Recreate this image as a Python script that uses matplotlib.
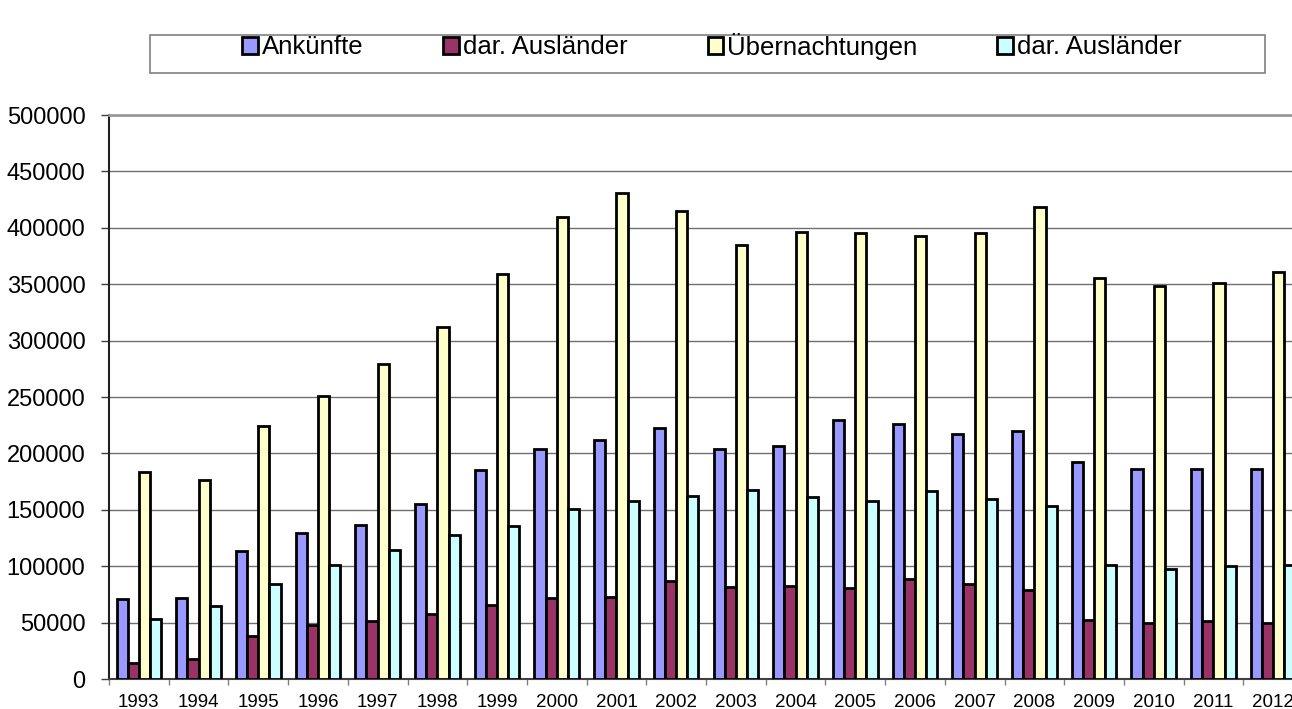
import numpy as np
import matplotlib
matplotlib.use("Agg")
import matplotlib.pyplot as plt
from matplotlib.patches import Rectangle

plt.rcParams['font.family'] = ['Liberation Sans', 'DejaVu Sans']

# data
years = [str(y) for y in range(1993, 2013)]
ankuenfte = [71000, 71500, 113500, 129000, 136500, 155500, 185000, 203500, 211500, 222500,
             204000, 207000, 229500, 226500, 217500, 220000, 192000, 186000, 186500, 186000]
ank_ausl = [14500, 18000, 38500, 47500, 51500, 57500, 65500, 72000, 72500, 87000,
            81500, 82500, 81000, 89000, 84000, 79000, 52500, 49500, 51000, 49500]
uebernachtungen = [183500, 176000, 224500, 251000, 279500, 312500, 359000, 409500, 431000, 414500,
                   385000, 396000, 395000, 392500, 395000, 418000, 355500, 348000, 351500, 361000]
ueb_ausl = [53500, 64500, 84000, 101000, 114000, 128000, 135500, 151000, 158000, 162500,
            167500, 161500, 158000, 167000, 159500, 153500, 101500, 97500, 100000, 101500]

series = [ankuenfte, ank_ausl, uebernachtungen, ueb_ausl]
labels = ["Ankünfte", "dar. Ausländer", "Übernachtungen", "dar. Ausländer"]
colors = ["#9999FF", "#993366", "#FFFFCC", "#CCFFFF"]

W, H = 1292, 709
fig = plt.figure(figsize=(W / 100, H / 100), dpi=100)
# plot area runs a bit past the right edge, like the original
ax = fig.add_axes([109 / W, 30 / H, (1303 - 109) / W, (679 - 115) / H])

x = np.arange(len(years))
bw = 0.187
handles = []
for i, (vals, col) in enumerate(zip(series, colors)):
    b = ax.bar(x + (i - 1.5) * bw, vals, bw, color=col, edgecolor="black",
               linewidth=2.0, zorder=3)
    handles.append(b)

ax.set_xlim(-0.5, len(years) - 0.5)
ax.set_ylim(0, 500000)
ax.set_yticks(np.arange(0, 500001, 50000))
ax.set_yticklabels([str(v) for v in range(0, 500001, 50000)], fontsize=17)
ax.tick_params(axis='y', length=6, width=1, color="#404040", pad=11)

# category labels centered, ticks between categories
ax.set_xticks(x)
ax.set_xticklabels(years, fontsize=13.5)
ax.tick_params(axis='x', which='major', length=0, pad=11)
ax.set_xticks(np.arange(-0.5, len(years), 1), minor=True)
ax.tick_params(axis='x', which='minor', length=4, width=1, color="#808080")

ax.yaxis.grid(True, color="#707070", linewidth=1, zorder=0)
ax.set_axisbelow(True)
ax.spines['left'].set_color("#202020")
ax.spines['left'].set_linewidth(1.5)
ax.spines['bottom'].set_color("#404040")
ax.spines['bottom'].set_linewidth(1.5)
ax.spines['top'].set_color("#999999")
ax.spines['top'].set_linewidth(2)
ax.spines['right'].set_visible(False)

# legend box
fig.patches.append(Rectangle((150 / W, 1 - 73 / H), 1115 / W, 38 / H,
                             transform=fig.transFigure, fill=False,
                             edgecolor="#808080", linewidth=1.2))
fig.legend(handles, labels, loc='center', bbox_to_anchor=(712 / W, 1 - 46 / H),
           ncol=4, frameon=False, fontsize=18.5, handlelength=0.62,
           handleheight=0.62, handletextpad=0.15, columnspacing=3.1,
           borderpad=0, borderaxespad=0)

fig.savefig("out.png", dpi=100)
